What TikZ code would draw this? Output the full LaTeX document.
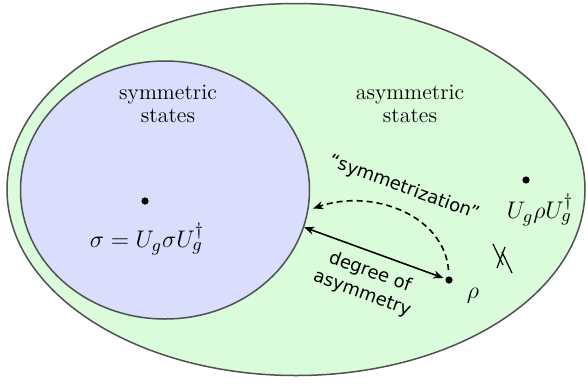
\documentclass[tikz,border=0pt]{standalone}
\usepackage{amsmath}
\usepackage{fontspec}
\newfontfamily\labelsans{DejaVu Sans}
\usepackage{tikz}
\usetikzlibrary{arrows.meta,positioning,shapes.geometric}
\definecolor{asymgreen}{RGB}{218,252,218}
\definecolor{symblue}{RGB}{216,222,252}
\definecolor{rimgray}{RGB}{80,80,80}

\begin{document}
\begin{tikzpicture}[
 x=0.5pt, y=-0.5pt,
 >={Stealth[length=5pt,width=4pt]},
 region/.style={ellipse, draw=rimgray, line width=0.75pt, inner sep=0pt},
 pt/.style={circle, fill=black, inner sep=0pt, minimum size=3.6pt},
 ttl/.style={font=\fontsize{11}{11.5}\selectfont, align=center},
 eq/.style={font=\fontsize{13}{15}\selectfont},
 note/.style={font=\labelsans\fontsize{9}{11.5}\selectfont, align=center, rotate=-20},
]
\useasboundingbox (0,0) rectangle (588,386);
\node[region, fill=asymgreen, minimum width=289pt, minimum height=186pt] (asym) at (296,189.5) {};
\node[region, fill=symblue, minimum width=144.5pt, minimum height=129pt] (sym) at (165,190) {};
\node[ttl] (symtitle) at (168,104) {symmetric\\states};
\node[ttl] (asymtitle) at (410,104) {asymmetric\\states};
\node[pt] (sigma) at (145,201) {};
\node[eq] (sigmalbl) at (147,239) {$\sigma = U_g\sigma U_g^\dagger$};
\node[pt] (ug) at (526,180) {};
\node[eq] (uglbl) at (540,210) {$U_g\rho U_g^\dagger$};
\node[pt] (rho) at (449,280) {};
\node[eq] (rholbl) at (473,296) {$\rho$};
\draw[<->, line width=0.8pt, shorten >=1pt] (sym.-15) -- (rho);
\draw[->, line width=0.8pt, dash pattern=on 3pt off 2pt, shorten <=3pt, shorten >=2.5pt]
 (rho.north) .. controls (444,215) and (372,188) .. (sym.-8);
\node[note] (symlbl) at (404,188) {“symmetrization”};
\node[note] (deglbl) at (366,283) {degree of\\asymmetry};
% not equal mark
\draw[line width=0.6pt] (493,244) -- (503,265) (502,252) -- (512,273) (505,247) -- (497,268);
\end{tikzpicture}
\end{document}
